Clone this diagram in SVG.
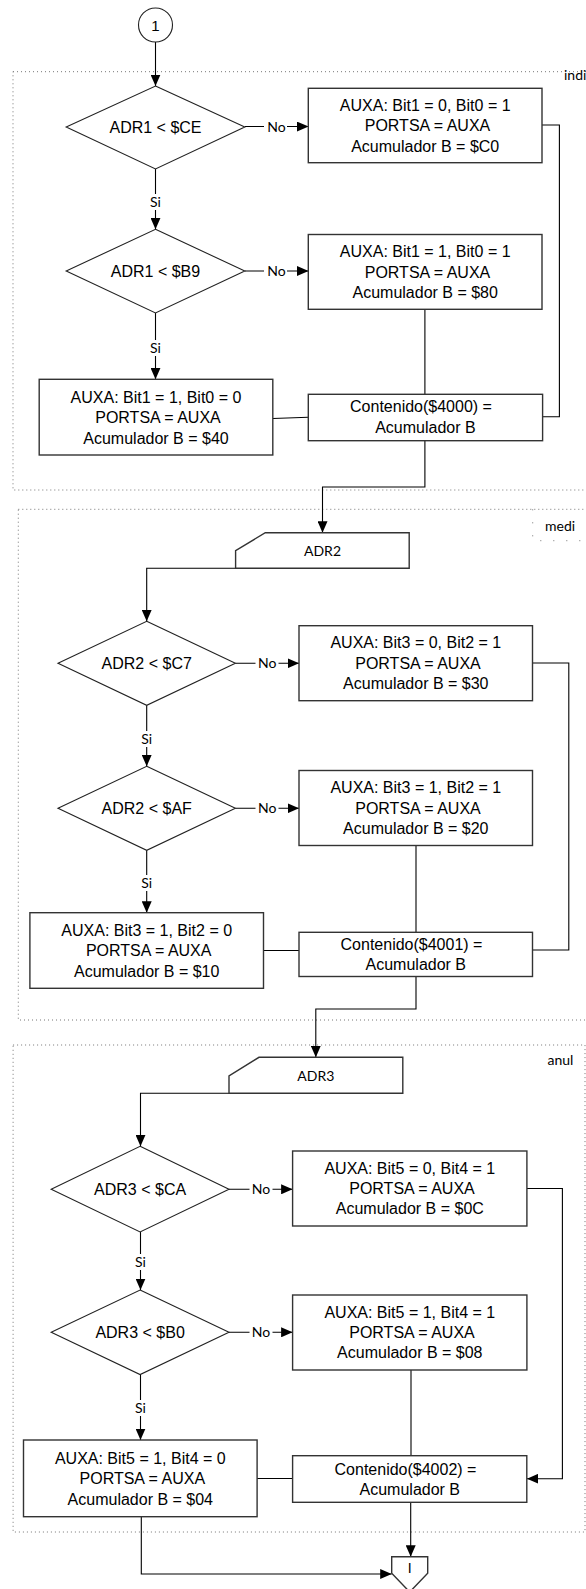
<svg xmlns="http://www.w3.org/2000/svg" width="586" height="1589" viewBox="0 0 586 1589">
<style>
.box{fill:#fff;stroke:#333;stroke-width:1.4}
.dia{fill:#fff;stroke:#222;stroke-width:1.1}
.cont{fill:none;stroke:#777;stroke-width:1;stroke-dasharray:1 3}
.ln{fill:none;stroke:#000;stroke-width:1.1}
.t{font-family:"Liberation Sans",Arial,sans-serif;font-size:16px;fill:#000;text-anchor:middle}
.s{font-family:Lato,"Open Sans",sans-serif;font-size:14px;fill:#000;text-anchor:middle}
.lab{font-family:Lato,"Open Sans",sans-serif;font-size:14px;fill:#000}
.bg{fill:#fff}
</style>
<defs>
<marker id="ar" markerWidth="11.5" markerHeight="10" refX="11.5" refY="5" orient="auto" markerUnits="userSpaceOnUse">
<path d="M0,0 L11.5,5 L0,10 z" fill="#000"/>
</marker>
</defs>

<g id="containers">
<rect id="cont-indi" class="cont" x="13" y="71.7" width="590" height="418.3"/>
<text class="lab" x="564" y="80">indi</text>
<rect id="cont-medi" class="cont" x="18.3" y="509.3" width="590" height="510.7"/>
<path d="M532.7,509.3 V540.7 H586" fill="none" stroke="#777" stroke-width="1" stroke-dasharray="1 12"/>
<text class="lab" x="545" y="531">medi</text>
<rect id="cont-anul" class="cont" x="13.1" y="1045" width="571.9" height="487"/>
<text class="lab" x="547.5" y="1065">anul</text>
</g>

<g id="connectors">
<path class="ln" d="M155.5,42 V86" marker-end="url(#ar)"/>
<!-- section 1 -->
<path class="ln" d="M244.8,126.5 H308.3" marker-end="url(#ar)"/>
<path class="ln" d="M155.5,169 V229.3" marker-end="url(#ar)"/>
<path class="ln" d="M244.8,271 H308.3" marker-end="url(#ar)"/>
<path class="ln" d="M155.5,313 V379.3" marker-end="url(#ar)"/>
<path class="ln" d="M424.9,309.3 V394.3"/>
<path class="ln" d="M272.8,418.5 L308.3,417.2"/>
<path class="ln" d="M542,125 H559.4 V416.7 H542.6"/>
<path class="ln" d="M424.9,440.7 V487 H322.5 V532.7" marker-end="url(#ar)"/>
<!-- section 2 -->
<path class="ln" d="M322.5,568.3 H146.7 V621.3" marker-end="url(#ar)"/>
<path class="ln" d="M235.4,663.3 H299" marker-end="url(#ar)"/>
<path class="ln" d="M146.7,705.3 V766.3" marker-end="url(#ar)"/>
<path class="ln" d="M235.4,808.3 H299" marker-end="url(#ar)"/>
<path class="ln" d="M146.7,850.3 V912.7" marker-end="url(#ar)"/>
<path class="ln" d="M416,845.5 V932.3"/>
<path class="ln" d="M263.5,950.5 H299"/>
<path class="ln" d="M532.5,663 H568.8 V950 H532.5"/>
<path class="ln" d="M416,976.5 V1009 H315.8 V1057.3" marker-end="url(#ar)"/>
<!-- section 3 -->
<path class="ln" d="M315.8,1093.3 H140.5 V1146.3" marker-end="url(#ar)"/>
<path class="ln" d="M229,1189.3 H292.6" marker-end="url(#ar)"/>
<path class="ln" d="M140.5,1232 V1290" marker-end="url(#ar)"/>
<path class="ln" d="M229,1332.3 H292.6" marker-end="url(#ar)"/>
<path class="ln" d="M140.5,1374.6 V1440" marker-end="url(#ar)"/>
<path class="ln" d="M411,1370 V1455.7"/>
<path class="ln" d="M257.1,1478.5 H292.6"/>
<path class="ln" d="M526.9,1188.5 H562.4 V1478.7 H526.9" marker-end="url(#ar)"/>
<path class="ln" d="M410.7,1502.3 V1556.7" marker-end="url(#ar)"/>
<path class="ln" d="M141.3,1516.7 V1574 H391.7" marker-end="url(#ar)"/>
<!-- labels -->
<rect class="bg" x="264" y="119" width="23" height="15"/>
<text class="s" x="276.5" y="131.5">No</text>
<rect class="bg" x="264" y="264" width="23" height="15"/>
<text class="s" x="276.5" y="276">No</text>
<rect class="bg" x="148" y="194" width="15" height="16"/>
<text class="s" x="155.5" y="206.5">Si</text>
<rect class="bg" x="148" y="340" width="15" height="16"/>
<text class="s" x="155.5" y="352.5">Si</text>
<rect class="bg" x="255.5" y="656" width="23" height="15"/>
<text class="s" x="267.2" y="668.3">No</text>
<rect class="bg" x="255.5" y="801" width="23" height="15"/>
<text class="s" x="267.2" y="813.3">No</text>
<rect class="bg" x="139" y="731" width="15" height="16"/>
<text class="s" x="146.7" y="744">Si</text>
<rect class="bg" x="139" y="875" width="15" height="16"/>
<text class="s" x="146.7" y="888">Si</text>
<rect class="bg" x="249.5" y="1182" width="23" height="15"/>
<text class="s" x="261" y="1194.3">No</text>
<rect class="bg" x="249.5" y="1325" width="23" height="15"/>
<text class="s" x="261" y="1337.3">No</text>
<rect class="bg" x="133" y="1254" width="15" height="16"/>
<text class="s" x="140.5" y="1266.5">Si</text>
<rect class="bg" x="133" y="1400" width="15" height="16"/>
<text class="s" x="140.5" y="1413">Si</text>
</g>

<g id="start">
<circle cx="155.5" cy="25" r="17" fill="#fff" stroke="#222" stroke-width="1.1"/>
<text class="t" x="155.5" y="30.5" style="font-size:15px">1</text>
</g>

<g id="d1"><polygon class="dia" points="155.5,86 244.8,127 155.5,169 66.2,127"/><text class="t" x="155.5" y="132.7">ADR1 &lt; $CE</text></g>
<g id="b1"><rect class="box" x="308.3" y="88.3" width="233.7" height="74.4"/>
<text class="t" x="425.2" y="110.8">AUXA: Bit1 = 0, Bit0 = 1</text>
<text class="t" x="427.5" y="131.3">PORTSA = AUXA</text>
<text class="t" x="425.2" y="151.7">Acumulador B = $C0</text></g>
<g id="d2"><polygon class="dia" points="155.5,229.3 244.8,271 155.5,313 66.2,271"/><text class="t" x="155.5" y="276.6">ADR1 &lt; $B9</text></g>
<g id="b2"><rect class="box" x="308.3" y="234.5" width="233.7" height="74.8"/>
<text class="t" x="425.2" y="257.3">AUXA: Bit1 = 1, Bit0 = 1</text>
<text class="t" x="427.5" y="277.6">PORTSA = AUXA</text>
<text class="t" x="425.2" y="298">Acumulador B = $80</text></g>
<g id="b3"><rect class="box" x="39.2" y="379.3" width="233.6" height="75.7"/>
<text class="t" x="156" y="402.8">AUXA: Bit1 = 1, Bit0 = 0</text>
<text class="t" x="158" y="423.1">PORTSA = AUXA</text>
<text class="t" x="156" y="443.5">Acumulador B = $40</text></g>
<g id="b4"><rect class="box" x="308.3" y="394.3" width="234.3" height="46.4"/>
<text class="t" x="421" y="412.4">Contenido($4000) =</text>
<text class="t" x="425.4" y="433.4">Acumulador B</text></g>

<g id="in2"><polygon class="box" points="265.3,532.7 409.2,532.7 409.2,568.3 235.6,568.3 235.6,550.7"/>
<text class="s" x="322.5" y="555.5">ADR2</text></g>
<g id="d3"><polygon class="dia" points="146.7,621.3 235.4,663.3 146.7,705.3 58,663.3"/><text class="t" x="146.7" y="669">ADR2 &lt; $C7</text></g>
<g id="b5"><rect class="box" x="299" y="625.7" width="233.5" height="75"/>
<text class="t" x="415.8" y="648.3">AUXA: Bit3 = 0, Bit2 = 1</text>
<text class="t" x="418" y="668.7">PORTSA = AUXA</text>
<text class="t" x="415.8" y="689">Acumulador B = $30</text></g>
<g id="d4"><polygon class="dia" points="146.7,766.3 235.4,808.3 146.7,850.3 58,808.3"/><text class="t" x="146.7" y="814">ADR2 &lt; $AF</text></g>
<g id="b6"><rect class="box" x="299" y="770.5" width="233.5" height="75"/>
<text class="t" x="415.8" y="793.2">AUXA: Bit3 = 1, Bit2 = 1</text>
<text class="t" x="418" y="813.6">PORTSA = AUXA</text>
<text class="t" x="415.8" y="834">Acumulador B = $20</text></g>
<g id="b7"><rect class="box" x="29.9" y="912.7" width="233.6" height="75.6"/>
<text class="t" x="146.7" y="935.9">AUXA: Bit3 = 1, Bit2 = 0</text>
<text class="t" x="148.7" y="956.2">PORTSA = AUXA</text>
<text class="t" x="146.7" y="976.6">Acumulador B = $10</text></g>
<g id="b8"><rect class="box" x="299" y="932.3" width="233.5" height="44.2"/>
<text class="t" x="411.5" y="949.5">Contenido($4001) =</text>
<text class="t" x="415.8" y="969.8">Acumulador B</text></g>

<g id="in3"><polygon class="box" points="259,1057.3 402.8,1057.3 402.8,1093.3 229,1093.3 229,1076"/>
<text class="s" x="315.8" y="1080.5">ADR3</text></g>
<g id="d5"><polygon class="dia" points="140.1,1146.3 229,1189.3 140.1,1232 51.2,1189.3"/><text class="t" x="140.1" y="1195">ADR3 &lt; $CA</text></g>
<g id="b9"><rect class="box" x="292.6" y="1151" width="234.3" height="75"/>
<text class="t" x="409.8" y="1173.6">AUXA: Bit5 = 0, Bit4 = 1</text>
<text class="t" x="412" y="1194">PORTSA = AUXA</text>
<text class="t" x="409.8" y="1214.4">Acumulador B = $0C</text></g>
<g id="d6"><polygon class="dia" points="140.1,1290 229,1332.3 140.1,1374.6 51.2,1332.3"/><text class="t" x="140.1" y="1338">ADR3 &lt; $B0</text></g>
<g id="b10"><rect class="box" x="292.6" y="1295" width="234.3" height="75"/>
<text class="t" x="409.8" y="1317.6">AUXA: Bit5 = 1, Bit4 = 1</text>
<text class="t" x="412" y="1338">PORTSA = AUXA</text>
<text class="t" x="409.8" y="1358.4">Acumulador B = $08</text></g>
<g id="b11"><rect class="box" x="23.5" y="1440" width="233.6" height="76.7"/>
<text class="t" x="140.3" y="1463.8">AUXA: Bit5 = 1, Bit4 = 0</text>
<text class="t" x="142.3" y="1484.1">PORTSA = AUXA</text>
<text class="t" x="140.3" y="1504.5">Acumulador B = $04</text></g>
<g id="b12"><rect class="box" x="292.6" y="1455.7" width="234.2" height="46.6"/>
<text class="t" x="405.5" y="1474.5">Contenido($4002) =</text>
<text class="t" x="409.8" y="1494.5">Acumulador B</text></g>

<g id="end"><polygon class="box" points="391.7,1556.7 427.7,1556.7 427.7,1573.3 409.7,1592 391.7,1573.3"/>
<text class="t" x="409.7" y="1573" style="font-size:14px">I</text></g>
</svg>
